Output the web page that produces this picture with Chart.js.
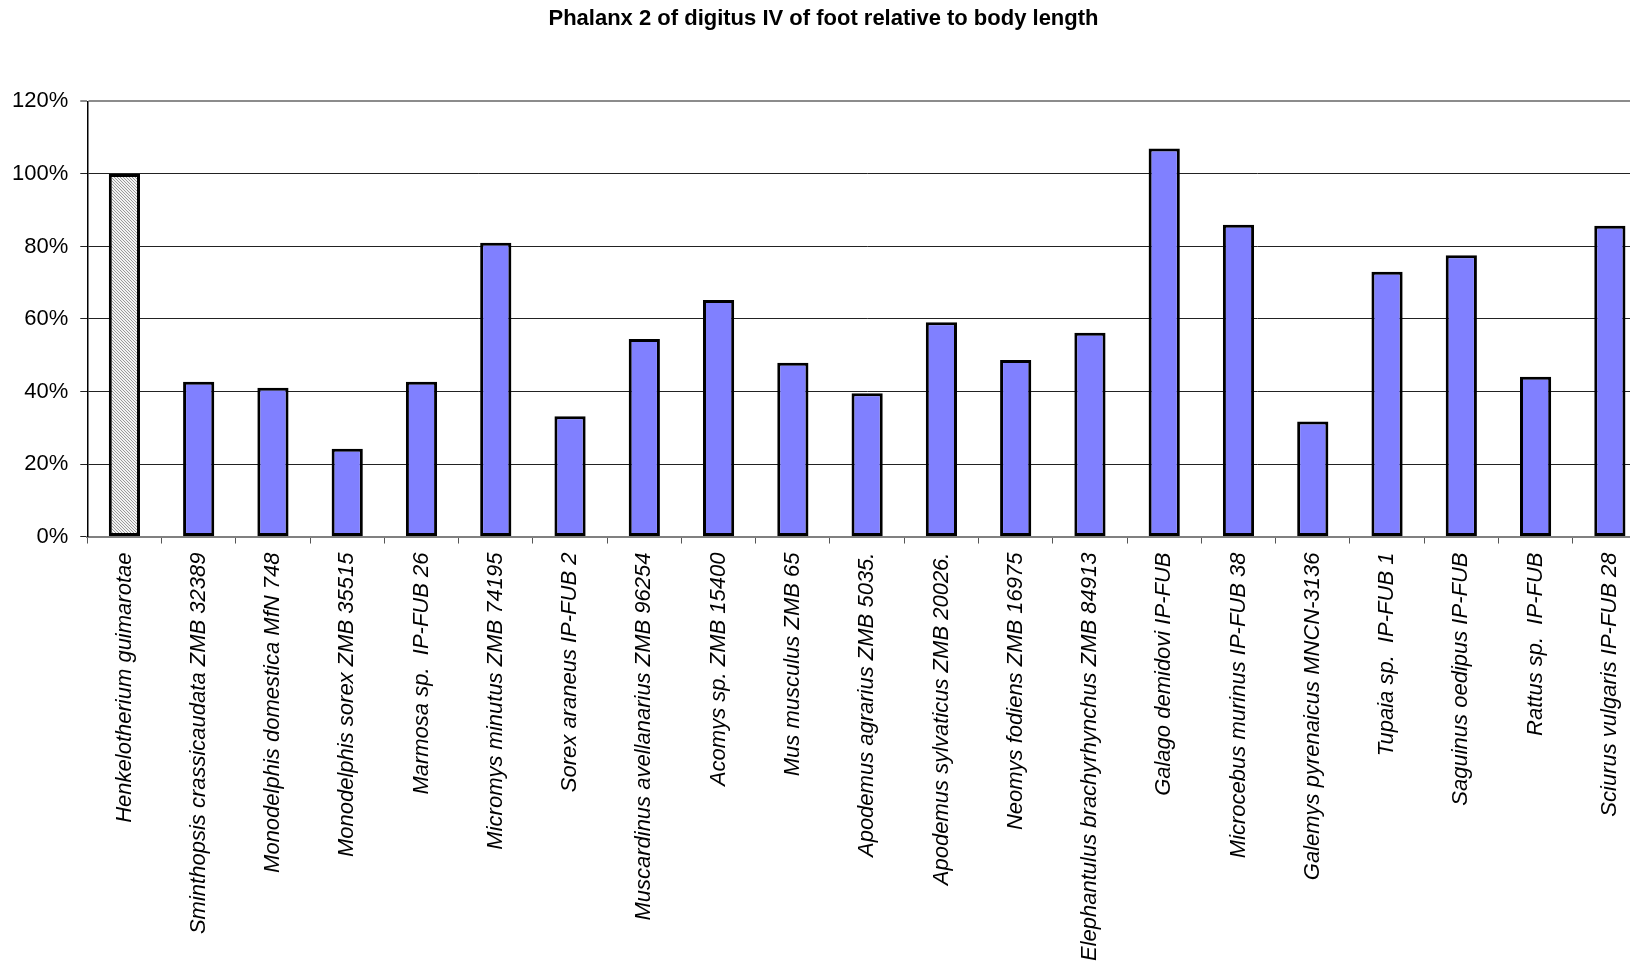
<!DOCTYPE html>
<html>
<head>
<meta charset="utf-8">
<script src="https://cdn.jsdelivr.net/npm/chart.js@4/dist/chart.umd.min.js"></script>
<style>
  html, body { margin: 0; padding: 0; background: #fff; overflow: hidden; }
  #wrap { width: 1656px; height: 970px; }
</style>
</head>
<body>
<div id="wrap"><canvas id="phalanxChart" width="1656" height="970"></canvas></div>
<script>
// species / specimen labels
const specimens = [
    'Henkelotherium guimarotae',
    'Sminthopsis crassicaudata ZMB 32389',
    'Monodelphis domestica MfN 748',
    'Monodelphis sorex ZMB 35515',
    'Marmosa sp.  IP-FUB 26',
    'Micromys minutus ZMB 74195',
    'Sorex araneus IP-FUB 2',
    'Muscardinus avellanarius ZMB 96254',
    'Acomys sp. ZMB 15400',
    'Mus musculus ZMB 65',
    'Apodemus agrarius ZMB 5035.',
    'Apodemus sylvaticus ZMB 20026.',
    'Neomys fodiens ZMB 16975',
    'Elephantulus brachyrhynchus ZMB 84913',
    'Galago demidovi IP-FUB',
    'Microcebus murinus IP-FUB 38',
    'Galemys pyrenaicus MNCN-3136',
    'Tupaia sp.  IP-FUB 1',
    'Saguinus oedipus IP-FUB',
    'Rattus sp.  IP-FUB',
    'Sciurus vulgaris IP-FUB 28'
];

// phalanx 2 / body length, in percent
const relLength = [100, 42.7, 41.0, 24.2, 42.7, 81.0, 33.2, 54.5, 65.2, 47.9, 39.5,
                   59.1, 48.7, 56.2, 107.0, 86.0, 31.7, 73.0, 77.6, 44.1, 85.7];

const yTicks = [0, 20, 40, 60, 80, 100, 120];

// fine hatched fill for the fossil (first bar)
function makeHatch() {
    const c = document.createElement('canvas');
    c.width = 3; c.height = 3;
    const g = c.getContext('2d');
    g.fillStyle = '#f2f2f2';
    g.fillRect(0, 0, 3, 3);
    g.fillStyle = '#9a9a9a';
    for (let i = 0; i < 3; i++) g.fillRect(i, i, 1, 1);
    return g.createPattern(c, 'repeat');
}

const ctx = document.getElementById('phalanxChart').getContext('2d');
const hatch = makeHatch();

const phalanxChart = new Chart(ctx, {
    type: 'bar',
    data: {
        labels: specimens,
        datasets: [{
            data: relLength,
            backgroundColor: relLength.map((v, i) => i === 0 ? hatch : '#8080ff'),
            borderColor: '#000',
            borderWidth: 3,
            borderSkipped: false,
            barPercentage: 0.42,
            categoryPercentage: 1.0
        }]
    },
    options: {
        responsive: false,
        animation: false,
        layout: { padding: { left: 0, right: 9, top: 6, bottom: 0 } },
        plugins: {
            legend: { display: false },
            tooltip: { enabled: false },
            title: {
                display: true,
                text: 'Phalanx 2 of digitus IV of foot relative to body length',
                color: '#000',
                font: { family: 'Liberation Sans', size: 22, weight: 'bold' },
                padding: { top: 0, bottom: 69 }
            }
        },
        scales: {
            x: {
                offset: true,
                grid: {
                    offset: true,
                    drawOnChartArea: false,
                    drawTicks: true,
                    tickLength: 7,
                    color: '#555',
                    lineWidth: 1
                },
                border: { display: true, color: '#808080', width: 2 },
                ticks: {
                    autoSkip: false,
                    maxRotation: 90,
                    minRotation: 90,
                    padding: 9,
                    color: '#000',
                    font: { family: 'Liberation Sans', size: 22, style: 'italic' }
                }
            },
            y: {
                min: 0,
                max: 120,
                afterBuildTicks: axis => { axis.ticks = yTicks.map(v => ({ value: v })); },
                grid: {
                    drawTicks: true,
                    tickLength: 7,
                    color: ctx => ctx.tick && ctx.tick.value === 120 ? '#8c8c8c' : '#222',
                    lineWidth: ctx => ctx.tick && ctx.tick.value === 120 ? 2 : 1
                },
                border: { display: true, color: '#000', width: 1.5 },
                ticks: {
                    padding: 12,
                    color: '#000',
                    font: { family: 'Liberation Sans', size: 22 },
                    callback: v => v + '%'
                }
            }
        }
    }
});
</script>
</body>
</html>
